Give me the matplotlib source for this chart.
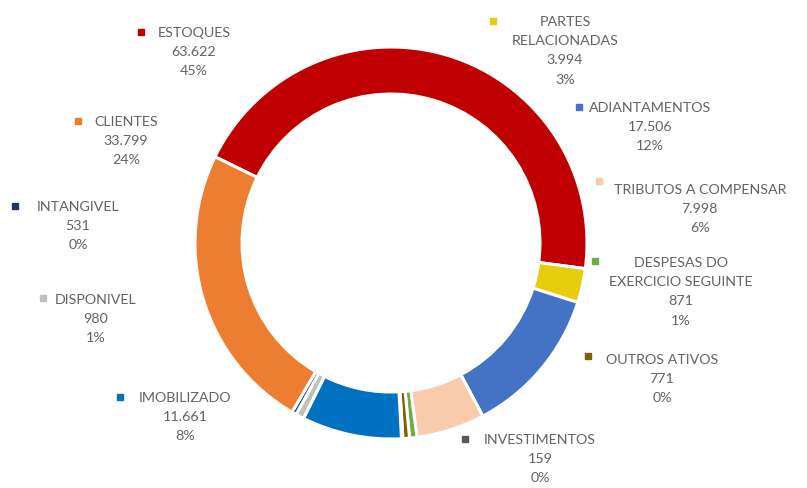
import matplotlib
matplotlib.use("Agg")
import matplotlib.pyplot as plt

# ---- data ----
categories = ["ESTOQUES", "PARTES\nRELACIONADAS", "ADIANTAMENTOS", "TRIBUTOS A COMPENSAR",
              "DESPESAS DO\nEXERCICIO SEGUINTE", "OUTROS ATIVOS", "INVESTIMENTOS",
              "IMOBILIZADO", "DISPONIVEL", "INTANGIVEL", "CLIENTES"]
values = [63622, 3994, 17506, 7998, 871, 771, 159, 11661, 980, 531, 33799]
value_labels = ["63.622", "3.994", "17.506", "7.998", "871", "771", "159",
                "11.661", "980", "531", "33.799"]
pct_labels = ["45%", "3%", "12%", "6%", "1%", "0%", "0%", "8%", "1%", "0%", "24%"]
colors = ["#C00000", "#E6CE0E", "#4472C4", "#F8CBAD", "#70AD47", "#7F6000",
          "#595959", "#0070C0", "#BFBFBF", "#203864", "#ED7D31"]

# ---- layout (pixel coordinates, y measured from top) ----
W, H = 807, 489
center = (391, 244)
radius = 196
ring = 47
# text block center x, first-line center y, marker x, marker y
label_pos = [
    (194, 33, 141, 33),
    (565, 22, 493, 22),
    (650, 108, 579, 108),
    (700, 190, 599, 182),
    (681, 263, 595, 262),
    (662, 360, 588, 357),
    (540, 440, 465, 440),
    (185, 398, 120, 398),
    (96, 300, 43, 299),
    (78, 207, 15, 207),
    (126, 122, 78, 122),
]

fig = plt.figure(figsize=(W / 100, H / 100), dpi=100)
ax = fig.add_axes([0, 0, 1, 1])

ax.pie(values, colors=colors, startangle=153.9, counterclock=False,
       center=(center[0], H - center[1]), radius=radius,
       wedgeprops=dict(width=ring, edgecolor="white", linewidth=2.2),
       frame=True)
ax.set_xlim(0, W)
ax.set_ylim(0, H)
ax.set_aspect("equal")
ax.axis("off")

txt_color = "#636363"
for name, vl, pl, col, (tx, ty, mx, my) in zip(categories, value_labels, pct_labels,
                                               colors, label_pos):
    ax.text(tx, H - ty + 6, f"{name}\n{vl}\n{pl}", ha="center", va="top",
            multialignment="center", fontsize=10.3, family="Lato",
            fontweight="normal", color=txt_color, linespacing=1.72)
    ax.plot([mx], [H - my], marker="s", markersize=4.5, color=col, linestyle="none")

fig.savefig("out.png", dpi=100, facecolor="white")
